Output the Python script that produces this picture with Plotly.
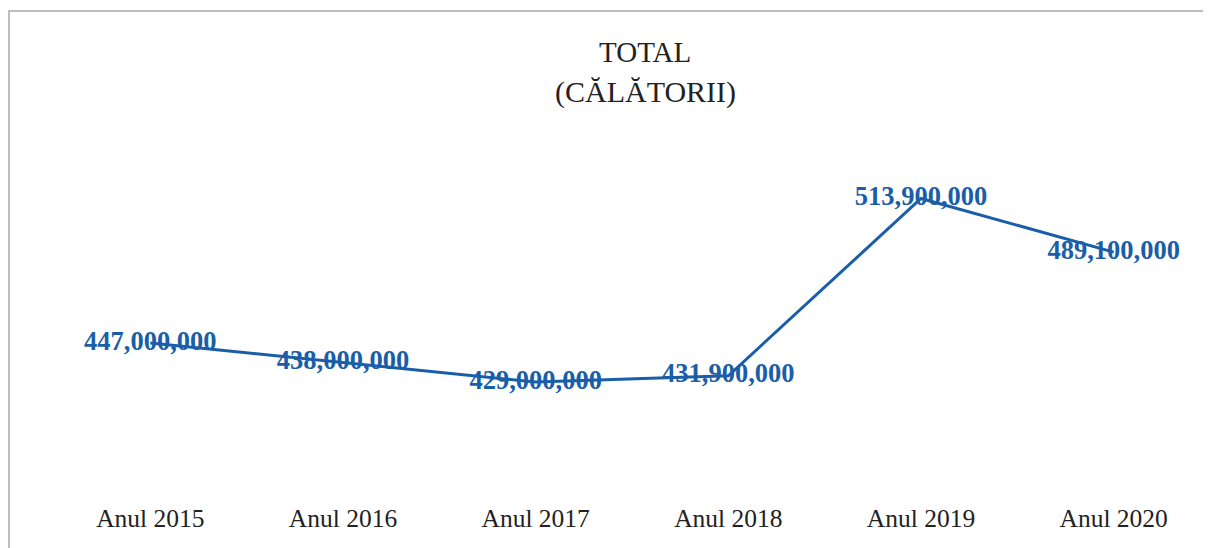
import plotly.graph_objects as go

years = ["Anul 2015", "Anul 2016", "Anul 2017", "Anul 2018", "Anul 2019", "Anul 2020"]
trips = [447000000, 438000000, 429000000, 431900000, 513900000, 489100000]
labels = [f"{v:,}" for v in trips]

BLUE = "#1b5ea8"
SERIF = "Liberation Serif, Times New Roman, serif"

fig = go.Figure()
fig.add_trace(go.Scatter(
    x=years, y=trips, mode="lines+text",
    line=dict(color=BLUE, width=3),
    text=labels, textposition="middle center",
    textfont=dict(family=SERIF, size=26.5, color=BLUE, weight="bold"),
    cliponaxis=False, hoverinfo="skip",
))

fig.update_layout(
    width=1211, height=548,
    margin=dict(l=46, r=9, t=142, b=56),
    paper_bgcolor="white", plot_bgcolor="white",
    showlegend=False,
    font=dict(family=SERIF),
    xaxis=dict(
        type="category", range=[-0.5, 5.5], showgrid=False, zeroline=False,
        showline=False, ticks="",
        tickfont=dict(family=SERIF, size=25.5, color="#222222"),
    ),
    yaxis=dict(
        range=[374.43e6, 536.32e6], visible=False, showgrid=False, zeroline=False,
    ),
)

# helpers: screen pixel -> paper coordinates (page has 8px body offset)
plot_left, plot_w = 54, 1156
plot_top, plot_h = 150, 350
def px(xp):
    return (xp - plot_left) / plot_w
def py(yp):
    return (plot_top + plot_h - yp) / plot_h

fig.add_annotation(text="TOTAL", x=px(645), y=py(52), xref="paper", yref="paper",
                   xanchor="center", yanchor="middle",
                   showarrow=False, font=dict(family=SERIF, size=29, color="#222222"))
fig.add_annotation(text="(CĂLĂTORII)", x=px(645), y=py(92), xref="paper", yref="paper",
                   xanchor="center", yanchor="middle",
                   showarrow=False, font=dict(family=SERIF, size=30, color="#222222"))

# outer frame of the original chart
fig.add_shape(type="rect", xref="paper", yref="paper",
              x0=px(9), x1=px(1240), y0=py(570), y1=py(11),
              line=dict(color="#a8a8a8", width=1.5), fillcolor="rgba(0,0,0,0)")

fig.write_html("out.html")
